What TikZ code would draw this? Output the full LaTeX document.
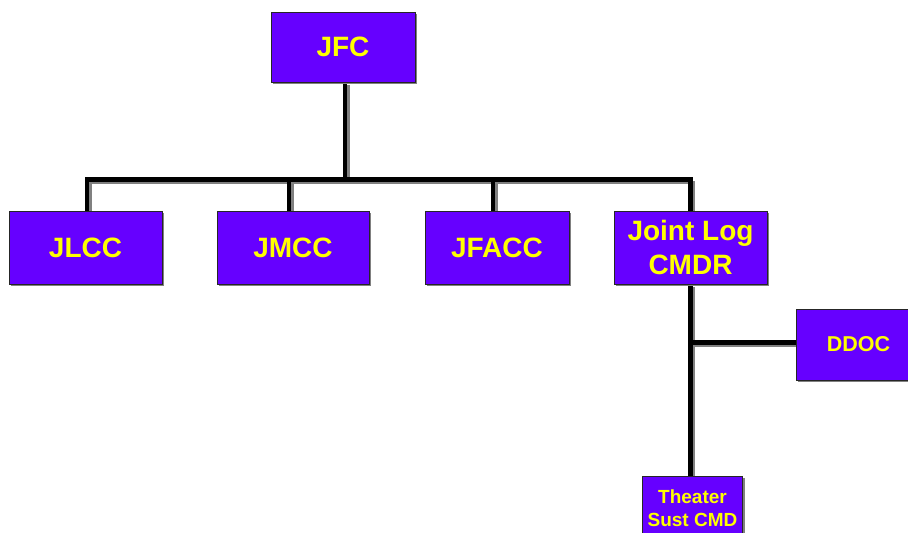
\documentclass[tikz,border=0pt]{standalone}
\usepackage{fontspec}
\setmainfont{Liberation Sans}
\usetikzlibrary{shadows,backgrounds}
\definecolor{unitfill}{RGB}{102,0,255}
\definecolor{unittext}{RGB}{255,255,0}
\tikzset{
  unit/.style={draw=black!85, line width=0.8pt, fill=unitfill, text=unittext, align=center, inner sep=0pt,
    font=\bfseries\fontsize{28}{34}\selectfont,
    drop shadow={shadow xshift=2pt, shadow yshift=-2pt, fill=gray, opacity=1}},
  small unit/.style={unit, font=\bfseries\fontsize{19}{23}\selectfont},
  link/.style={line width=4.5pt, preaction={draw=gray, line width=3.5pt, transform canvas={xshift=3pt, yshift=-3pt}}}
}
\begin{document}
\begin{tikzpicture}[x=1pt,y=-1pt]
                \useasboundingbox (0,0) rectangle (908,533);
                \node[unit, minimum width=144pt, minimum height=70pt] (jfc) at (343,47) {JFC};
                \node[unit, minimum width=153pt, minimum height=73pt] (jlcc) at (85.5,247.5) {JLCC}; \node[unit, minimum width=152pt, minimum height=73pt] (jmcc) at (293,247.5) {JMCC};
                \node[unit, minimum width=144pt, minimum height=73pt] (jfacc) at (497,247.5) {JFACC}; \node[unit, minimum width=153pt, minimum height=73pt] (jlog) at (690.5,247.5) {Joint Log\\CMDR};
                \node[small unit, font=\bfseries\fontsize{21.5}{26}\selectfont, minimum width=125pt, minimum height=71pt] (ddoc) at (858.5,344.5) {DDOC};
                \node[small unit, minimum width=100pt, minimum height=64pt] (tsc) at (692.5,508) {Theater\\Sust CMD};
                \coordinate (bus) at (0,179.5);

                \begin{scope}[on background layer]
                \draw[link] ([xshift=2pt]jfc.south) -- ([xshift=2pt]jfc.south |- bus);
                \draw[link] ([xshift=1.5pt]jlcc.north) -- ([xshift=1.5pt]jlcc.north |- bus) -- (jlog.north |- bus) -- (jlog.north);
                \draw[link] ([xshift=-4pt]jmcc.north |- bus) -- ([xshift=-4pt]jmcc.north); \draw[link] ([xshift=-4pt]jfacc.north |- bus) -- ([xshift=-4pt]jfacc.north);
                \draw[link] (jlog.south) -- (jlog.south |- tsc.north);
                \draw[link] (ddoc.west |- 0,342.5) -- (jlog.south |- 0,342.5);
                \end{scope}
            \end{tikzpicture}
\end{document}
